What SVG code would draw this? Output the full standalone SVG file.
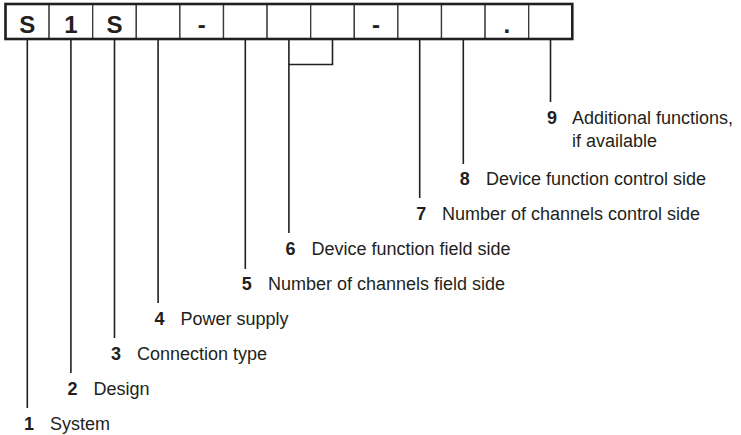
<svg xmlns="http://www.w3.org/2000/svg" width="741" height="435" viewBox="0 0 741 435">
  <style>
    .cell { fill: #ffffff; stroke: #3a3839; stroke-width: 1.3; }
    .frame { fill: none; stroke: #231f20; stroke-width: 2.6; }
    .code { font-family: "Liberation Sans", Arial, sans-serif; font-weight: bold; font-size: 24px; fill: #231f20; text-anchor: middle; }
    .num { font-family: "Liberation Sans", Arial, sans-serif; font-weight: bold; font-size: 18px; fill: #231f20; }
    .lbl { font-family: "Liberation Sans", Arial, sans-serif; font-size: 18px; fill: #231f20; }
    .wire { fill: none; stroke: #231f20; stroke-width: 1.6; }
  </style>
  <rect width="741" height="435" fill="#ffffff"/>

  <!-- Type code: 13 cells -->
  <g id="code-row">
    <g id="cells">
      <rect class="cell" x="5.5" y="4" width="43.6" height="35"/>
      <rect class="cell" x="49.1" y="4" width="43.6" height="35"/>
      <rect class="cell" x="92.7" y="4" width="43.6" height="35"/>
      <rect class="cell" x="136.3" y="4" width="43.6" height="35"/>
      <rect class="cell" x="179.9" y="4" width="43.6" height="35"/>
      <rect class="cell" x="223.5" y="4" width="43.6" height="35"/>
      <rect class="cell" x="267.1" y="4" width="43.6" height="35"/>
      <rect class="cell" x="310.7" y="4" width="43.6" height="35"/>
      <rect class="cell" x="354.3" y="4" width="43.6" height="35"/>
      <rect class="cell" x="397.9" y="4" width="43.6" height="35"/>
      <rect class="cell" x="441.5" y="4" width="43.6" height="35"/>
      <rect class="cell" x="485.1" y="4" width="43.6" height="35"/>
      <rect class="cell" x="528.7" y="4" width="43.6" height="35"/>
    </g>
    <rect class="frame" x="5.5" y="4" width="566.8" height="35"/>
    <text class="code" x="27.3" y="33">S</text>
    <text class="code" x="70.9" y="33">1</text>
    <text class="code" x="114.5" y="33">S</text>
    <text class="code" x="201.7" y="33">-</text>
    <text class="code" x="376.1" y="33">-</text>
    <text class="code" x="506.9" y="33">.</text>
  </g>

  <!-- Leader lines from the cells down to the legend -->
  <g id="connectors">
    <line class="wire" x1="27.3" y1="39" x2="27.3" y2="408"/>
    <line class="wire" x1="70.9" y1="39" x2="70.9" y2="373"/>
    <line class="wire" x1="114.5" y1="39" x2="114.5" y2="338"/>
    <line class="wire" x1="158.1" y1="39" x2="158.1" y2="303"/>
    <line class="wire" x1="245.3" y1="39" x2="245.3" y2="269"/>
    <polyline class="wire" points="288.9,39 288.9,64.5 332.5,64.5 332.5,39"/>
    <line class="wire" x1="288.9" y1="64.5" x2="288.9" y2="233"/>
    <line class="wire" x1="419.7" y1="39" x2="419.7" y2="198"/>
    <line class="wire" x1="463.3" y1="39" x2="463.3" y2="164"/>
    <line class="wire" x1="550.5" y1="39" x2="550.5" y2="102"/>
  </g>

  <!-- Legend entries -->
  <g id="label-1">
    <text class="num" x="24" y="429.5">1</text>
    <text class="lbl" x="50" y="429.5">System</text>
  </g>
  <g id="label-2">
    <text class="num" x="67.5" y="394.5">2</text>
    <text class="lbl" x="93.5" y="394.5">Design</text>
  </g>
  <g id="label-3">
    <text class="num" x="111" y="359.5">3</text>
    <text class="lbl" x="137" y="359.5">Connection type</text>
  </g>
  <g id="label-4">
    <text class="num" x="154.5" y="324.5">4</text>
    <text class="lbl" x="180.5" y="324.5">Power supply</text>
  </g>
  <g id="label-5">
    <text class="num" x="241.8" y="289.5">5</text>
    <text class="lbl" x="268" y="289.5">Number of channels field side</text>
  </g>
  <g id="label-6">
    <text class="num" x="285.4" y="254.5">6</text>
    <text class="lbl" x="311.4" y="254.5">Device function field side</text>
  </g>
  <g id="label-7">
    <text class="num" x="416.2" y="219.5">7</text>
    <text class="lbl" x="442" y="219.5">Number of channels control side</text>
  </g>
  <g id="label-8">
    <text class="num" x="459.8" y="184.5">8</text>
    <text class="lbl" x="486" y="184.5">Device function control side</text>
  </g>
  <g id="label-9">
    <text class="num" x="547" y="124">9</text>
    <text class="lbl" x="572" y="124">Additional functions,</text>
    <text class="lbl" x="572" y="147">if available</text>
  </g>
</svg>
